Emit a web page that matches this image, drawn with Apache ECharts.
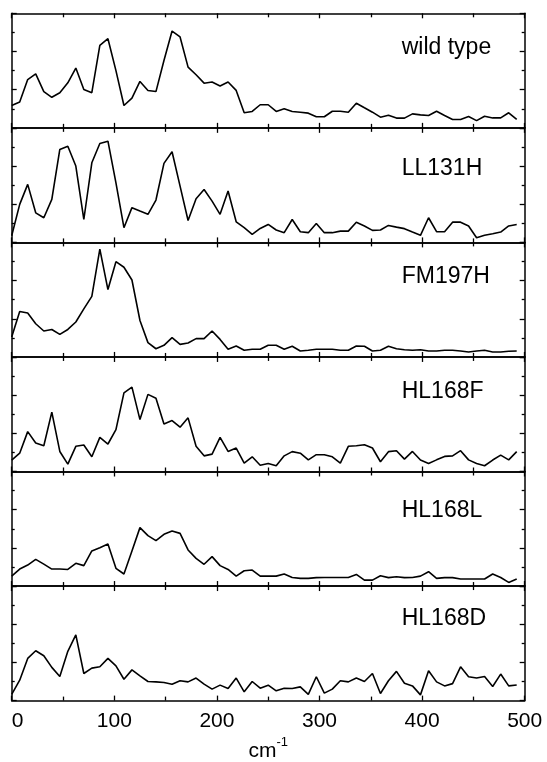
<!DOCTYPE html>
<html>
<head>
    <meta charset="utf-8" />
    <title>spectra</title>
    <script src="https://cdn.jsdelivr.net/npm/echarts@6/dist/echarts.min.js"></script>
    <style>
        html, body { margin: 0; padding: 0; background: #fff; }
    </style>
</head>
<body>
<div id="main" style="width: 547px;height:762px;"></div>
<script type="text/javascript">
    // frequencies (cm-1) of the sampled points
    var freqs = [0, 7.8, 15.6, 23.4, 31.3, 39.1, 46.9, 54.7, 62.5, 70.3, 78.1, 85.9, 93.8, 101.6, 109.4, 117.2,
        125, 132.8, 140.6, 148.4, 156.3, 164.1, 171.9, 179.7, 187.5, 195.3, 203.1, 210.9, 218.8, 226.6, 234.4, 242.2,
        250, 257.8, 265.6, 273.4, 281.3, 289.1, 296.9, 304.7, 312.5, 320.3, 328.1, 335.9, 343.8, 351.6, 359.4, 367.2,
        375, 382.8, 390.6, 398.4, 406.3, 414.1, 421.9, 429.7, 437.5, 445.3, 453.1, 460.9, 468.8, 476.6, 484.4, 492.2];

    var panelNames = ['wild type', 'LL131H', 'FM197H', 'HL168F', 'HL168L', 'HL168D'];

    var wildType = [1.17, 1.35, 2.53, 2.83, 1.9, 1.6, 1.84, 2.36, 3.13, 2.01, 1.84, 4.32, 4.67, 3.0, 1.17, 1.56,
        2.43, 1.96, 1.9, 3.53, 5.07, 4.76, 3.18, 2.78, 2.34, 2.4, 2.19, 2.4, 1.96, 0.79, 0.86, 1.21,
        1.21, 0.86, 1.0, 0.86, 0.82, 0.77, 0.58, 0.58, 0.87, 0.87, 0.82, 1.29, 1.05, 0.82, 0.56, 0.66,
        0.51, 0.51, 0.73, 0.68, 0.65, 0.87, 0.65, 0.44, 0.44, 0.59, 0.38, 0.61, 0.52, 0.52, 0.79, 0.44];
    var ll131h = [0.35, 1.99, 3.04, 1.55, 1.29, 2.25, 4.87, 5.04, 4.0, 1.2, 4.17, 5.18, 5.3, 3.12, 0.77, 1.82,
        1.64, 1.47, 2.22, 4.14, 4.75, 2.95, 1.15, 2.29, 2.77, 2.16, 1.47, 2.69, 1.08, 0.77, 0.42, 0.73,
        0.94, 0.65, 0.51, 1.2, 0.56, 0.51, 0.99, 0.51, 0.51, 0.59, 0.59, 1.06, 0.86, 0.63, 0.65, 0.89,
        0.8, 0.72, 0.54, 0.37, 1.29, 0.56, 0.56, 1.06, 1.06, 0.86, 0.24, 0.37, 0.45, 0.54, 0.86, 0.94];
    var fm197h = [1.05, 2.38, 2.3, 1.74, 1.36, 1.44, 1.18, 1.44, 1.83, 2.52, 3.17, 5.65, 3.53, 4.99, 4.7, 4.03,
        1.91, 0.75, 0.43, 0.61, 1.01, 0.66, 0.73, 0.96, 0.96, 1.36, 0.92, 0.4, 0.57, 0.35, 0.4, 0.4,
        0.61, 0.61, 0.4, 0.56, 0.31, 0.35, 0.4, 0.4, 0.4, 0.35, 0.35, 0.57, 0.56, 0.31, 0.35, 0.56,
        0.43, 0.38, 0.35, 0.38, 0.31, 0.31, 0.35, 0.35, 0.31, 0.26, 0.31, 0.35, 0.26, 0.26, 0.3, 0.31];
    var hl168f = [0.6, 0.96, 2.09, 1.49, 1.35, 3.11, 1.05, 0.39, 1.32, 1.39, 0.77, 1.79, 1.44, 2.19, 4.12, 4.42,
        2.72, 4.04, 3.84, 2.49, 2.67, 2.32, 2.81, 1.32, 0.82, 0.91, 1.79, 1.05, 1.23, 0.44, 0.77, 0.33,
        0.42, 0.3, 0.82, 1.04, 0.96, 0.61, 0.88, 0.88, 0.77, 0.44, 1.32, 1.35, 1.4, 1.23, 0.51, 1.04,
        1.09, 0.65, 1.05, 0.6, 0.42, 0.61, 0.79, 0.82, 1.09, 0.61, 0.42, 0.3, 0.6, 0.86, 0.61, 1.04];
    var hl168l = [0.52, 0.89, 1.1, 1.4, 1.15, 0.89, 0.89, 0.87, 1.19, 1.07, 1.84, 2.01, 2.2, 0.93, 0.63, 1.84,
        3.06, 2.64, 2.38, 2.71, 2.88, 2.76, 1.89, 1.45, 1.14, 1.54, 1.07, 0.87, 0.52, 0.8, 0.84, 0.52,
        0.52, 0.52, 0.63, 0.45, 0.4, 0.4, 0.44, 0.45, 0.45, 0.45, 0.45, 0.61, 0.31, 0.31, 0.54, 0.44,
        0.49, 0.44, 0.45, 0.52, 0.75, 0.4, 0.44, 0.44, 0.37, 0.37, 0.37, 0.37, 0.63, 0.45, 0.19, 0.37];
    var hl168d = [0.33, 1.07, 2.21, 2.61, 2.35, 1.74, 1.26, 2.58, 3.44, 1.42, 1.7, 1.77, 2.21, 1.82, 1.12, 1.61,
        1.3, 1.0, 0.98, 0.95, 0.86, 1.04, 0.98, 1.18, 0.86, 0.6, 0.81, 0.63, 1.18, 0.46, 1.0, 0.65,
        0.81, 0.51, 0.65, 0.63, 0.72, 0.33, 1.25, 0.39, 0.6, 1.04, 0.98, 1.18, 1.0, 1.42, 0.37, 1.04,
        1.53, 0.91, 0.77, 0.3, 1.56, 0.98, 0.77, 0.89, 1.77, 1.25, 1.18, 1.26, 0.74, 1.39, 0.77, 0.82];

    var allSeries = [wildType, ll131h, fm197h, hl168f, hl168l, hl168d];
    var xTicks = [0, 100, 200, 300, 400, 500];

    function drawChart() {
        var FONT = "'Liberation Sans', Arial, sans-serif";
        var panelTop = 13.3, panelH = 114.55;
        var labelTopOffset = [23, 29, 23, 23.5, 28, 21.5];

        var grids = [], xAxes = [], yAxes = [], series = [], titles = [];

        function tickOpts(len) {
            return {show: true, inside: true, length: len, lineStyle: {color: '#000', width: 1.3}};
        }

        for (var i = 0; i < 6; i++) {
            var panelY = panelTop + panelH * i;
            // keep panels where they are, no shrinking to fit the labels
            grids.push({left: 11.7, right: 22.3, top: panelY, height: panelH, containLabel: false, outerBoundsMode: 'none'});
            var last = (i === 5);
            ['bottom', 'top'].forEach(function (pos) {
                var ax = {
                    type: 'value', gridIndex: i, position: pos,
                    min: xTicks[0], max: xTicks[xTicks.length - 1], interval: 100,
                    axisLine: {show: true, onZero: false, lineStyle: {color: '#000', width: 1.5}},
                    axisTick: tickOpts(5),
                    minorTick: {show: true, splitNumber: 2, length: 4, lineStyle: {color: '#000', width: 1.3}},
                    splitLine: {show: false},
                    axisLabel: {show: false}
                };
                if (last && pos === 'bottom') {
                    ax.axisLabel = {
                        show: true, margin: 10, color: '#000', fontSize: 21, fontFamily: FONT,
                        alignMinLabel: 'left'
                    };
                    ax.name = '{a|cm}{b|-1}';
                    ax.nameLocation = 'middle';
                    ax.nameGap = 35;
                    ax.nameMoveOverlap = false;
                    ax.nameTextStyle = {
                        color: '#000', fontFamily: FONT,
                        rich: {
                            a: {fontSize: 21, color: '#000', fontFamily: FONT, verticalAlign: 'bottom', lineHeight: 26},
                            b: {fontSize: 13, color: '#000', fontFamily: FONT, verticalAlign: 'top', lineHeight: 26}
                        }
                    };
                }
                xAxes.push(ax);
            });
            ['left', 'right'].forEach(function (pos) {
                yAxes.push({
                    type: 'value', gridIndex: i, position: pos,
                    min: 0, max: 6, interval: 2,
                    axisLine: {show: true, onZero: false, lineStyle: {color: '#000', width: 1.5}},
                    axisTick: tickOpts(5),
                    minorTick: {show: true, splitNumber: 2, length: 3, lineStyle: {color: '#000', width: 1.3}},
                    splitLine: {show: false},
                    axisLabel: {show: false}
                });
            });
            series.push({
                type: 'line',
                xAxisIndex: i * 2,
                yAxisIndex: i * 2,
                showSymbol: false,
                symbol: 'none',
                lineStyle: {color: '#000', width: 1.6},
                data: freqs.map(function (f, k) { return [f, allSeries[i][k]]; })
            });
            titles.push({
                text: panelNames[i],
                left: 401.7,
                top: panelY + labelTopOffset[i],
                padding: 0,
                textStyle: {fontSize: 23, fontWeight: 'normal', color: '#000', fontFamily: FONT}
            });
        }

        var myChart = echarts.init(document.getElementById('main'));
        myChart.setOption({
            animation: false,
            backgroundColor: '#fff',
            title: titles,
            grid: grids,
            xAxis: xAxes,
            yAxis: yAxes,
            series: series
        });
    }

    drawChart();
</script>
</body>
</html>
